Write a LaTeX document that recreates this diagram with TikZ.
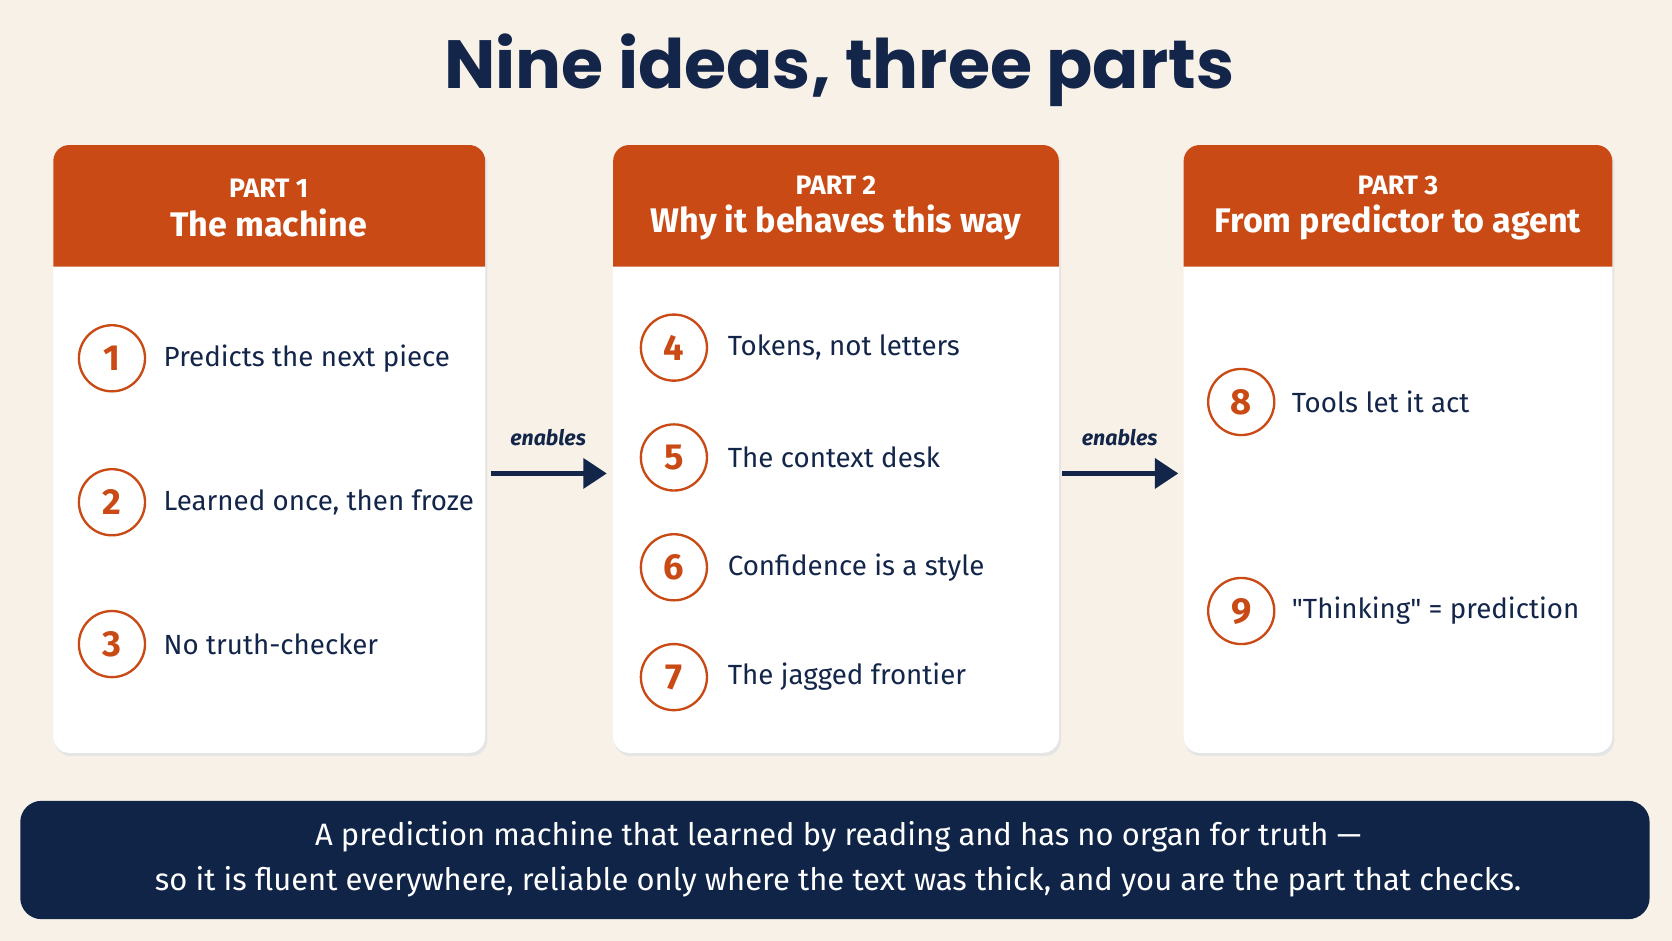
\documentclass[tikz,border=0pt]{standalone}
\usepackage{fontspec}
\usetikzlibrary{arrows.meta}
\setmainfont{Fira Sans}
\newfontfamily\ttlfont{Poppins}[BoldFont={* Bold}]
\definecolor{bg}{HTML}{F8F1E8}
\definecolor{navy}{HTML}{13264A}
\definecolor{org}{HTML}{C94A14}
\definecolor{band}{HTML}{0F2447}
\begin{document}
\begin{tikzpicture}[x=1pt,y=-1pt,
  card/.style={fill=white,rounded corners=15},
  hdr/.style={fill=org},
  num/.style={circle,draw=org,line width=2.2pt,minimum size=62pt,inner sep=0pt,text=org,font=\fontsize{34}{34}\selectfont\bfseries},
  item/.style={anchor=west,text=navy,font=\fontsize{26}{28}\selectfont},
  ptl/.style={text=white,align=center,font=\fontsize{25}{40}\selectfont\bfseries},
  arr/.style={draw=navy,line width=4pt,-{Triangle[length=22pt,width=28pt]}},
  lab/.style={text=navy,font=\fontsize{20}{20}\selectfont\itshape\bfseries}]
\fill[bg] (0,0) rectangle (1568,882);
\useasboundingbox (0,0) rectangle (1568,882);
\node[text=navy,font=\fontsize{64}{64}\selectfont\ttlfont\bfseries] (title) at (787,66) {Nine ideas, three parts};
% cards
\foreach \a/\b in {50/455,575/993,1110/1512}{
  \fill[black!10,rounded corners=15] (\a+1,139) rectangle (\b+2,709);
  \fill[card] (\a,136) rectangle (\b,706);
  \fill[hdr] (\a,250) {[rounded corners=15] -- (\a,136) -- (\b,136)} -- (\b,250) -- cycle;
}
\node[ptl] (h1) at (252,195) {PART 1\\[-4pt]{\fontsize{32}{32}\selectfont The machine}};
\node[ptl] (h2) at (784,195) {PART 2\\[-4pt]{\fontsize{32}{32}\selectfont Why it behaves this way}};
\node[ptl] (h3) at (1311,195) {PART 3\\[-4pt]{\fontsize{32}{32}\selectfont From predictor to agent}};
% items
\node[num] (n1) at (105,336) {1}; \node[item] (t1) at (150,336) {Predicts the next piece};
\node[num] (n2) at (105,471) {2}; \node[item] (t2) at (150,471) {Learned once, then froze};
\node[num] (n3) at (105,604) {3}; \node[item] (t3) at (150,604) {No truth-checker};
\node[num] (n4) at (632,326) {4}; \node[item] (t4) at (679,326) {Tokens, not letters};
\node[num] (n5) at (632,429) {5}; \node[item] (t5) at (679,429) {The context desk};
\node[num] (n6) at (632,532) {6}; \node[item] (t6) at (679,532) {Confidence is a style};
\node[num] (n7) at (632,635) {7}; \node[item] (t7) at (679,635) {The jagged frontier};
\node[num] (n8) at (1164,377) {8}; \node[item] (t8) at (1208,377) {Tools let it act};
\node[num] (n9) at (1164,573) {9}; \node[item] (t9) at (1208,573) {\textquotedbl Thinking\textquotedbl{} = prediction};
% arrows
\coordinate (a1s) at (460,444); \coordinate (a1e) at (569,444);
\coordinate (a2s) at (996,444); \coordinate (a2e) at (1105,444);
\draw[arr] (a1s) -- (a1e);
\draw[arr] (a2s) -- (a2e);
\node[lab] (l1) at (514,410) {enables};
\node[lab] (l2) at (1050,410) {enables};
% banner
\fill[band,rounded corners=20] (19,751) rectangle (1547,862);
\node[text=white,align=center,font=\fontsize{29}{42}\selectfont] (sum) at (786,806) {A prediction machine that learned by reading and has no organ for truth ---\\so it is fluent everywhere, reliable only where the text was thick, and you are the part that checks.};
\end{tikzpicture}
\end{document}
